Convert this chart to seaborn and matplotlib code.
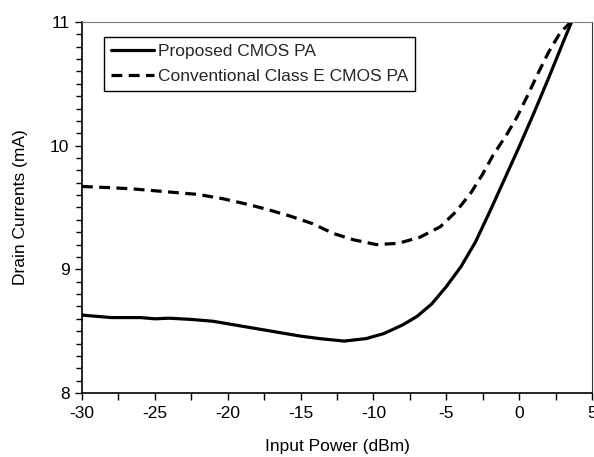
import matplotlib.pyplot as plt
import matplotlib.ticker as mticker
import seaborn as sns
import pandas as pd

# values
prop_x = [-30, -28, -26, -25, -24, -22.5, -21, -20, -19, -17.5, -16, -15, -13.7, -12,
          -10.5, -9.3, -8, -7, -6, -5, -4, -3, -2, -1, 0, 1, 2, 3, 3.6]
prop_y = [8.63, 8.61, 8.61, 8.60, 8.605, 8.595, 8.58, 8.56, 8.54, 8.51, 8.48, 8.46, 8.44, 8.42,
          8.44, 8.48, 8.55, 8.62, 8.72, 8.86, 9.02, 9.22, 9.47, 9.73, 9.99, 10.26, 10.54, 10.83, 11.0]

conv_x = [-30, -28, -26.5, -25, -23.5, -22, -20.3, -18.8, -17.3, -15.7, -14.2, -12.75, -11.4,
          -9.8, -8.3, -6.8, -5.4, -4.3, -3.3, -2.5, -1.8, -0.85, -0.15, 0.6, 1.3, 2.0, 2.8, 3.55]
conv_y = [9.67, 9.66, 9.65, 9.635, 9.62, 9.605, 9.57, 9.53, 9.485, 9.43, 9.37, 9.29, 9.24,
          9.20, 9.21, 9.26, 9.345, 9.47, 9.62, 9.77, 9.92, 10.09, 10.23, 10.41, 10.585, 10.75, 10.91, 11.0]

labels = ["Proposed CMOS PA", "Conventional Class E CMOS PA"]

sns.set_style("ticks")
plt.rcParams['font.family'] = ['Liberation Sans', 'DejaVu Sans']
plt.rcParams['axes.unicode_minus'] = False

prop = pd.DataFrame({"x": prop_x, "y": prop_y})
conv = pd.DataFrame({"x": conv_x, "y": conv_y})

fig = plt.figure(figsize=(5.94, 4.57), dpi=100)
ax = fig.add_axes([0.138, 0.140, 0.8586, 0.812])

sns.lineplot(x="x", y="y", data=prop, ax=ax, color="black", lw=2.3,
             label=labels[0], sort=False)
sns.lineplot(x="x", y="y", data=conv, ax=ax, color="black", lw=2.3,
             linestyle=(0, (3.4, 2.0)), label=labels[1], sort=False)

ax.set_xlim(-30, 5)
ax.set_ylim(8, 11)
ax.xaxis.set_major_locator(mticker.MultipleLocator(5))
ax.xaxis.set_minor_locator(mticker.MultipleLocator(2.5))
ax.yaxis.set_major_locator(mticker.MultipleLocator(1))
ax.yaxis.set_minor_locator(mticker.MultipleLocator(0.1))
ax.tick_params(axis="both", which="major", direction="out", length=5, width=1,
               labelsize=12.5, color="black", labelcolor="black", pad=4)
ax.tick_params(axis="y", which="minor", direction="out", length=4, width=1, color="black")
ax.tick_params(axis="x", which="minor", direction="out", length=5, width=1, color="black")

for side in ["left", "bottom"]:
    ax.spines[side].set_color("black")
    ax.spines[side].set_linewidth(1.2)
ax.spines["top"].set_color("#7f7f7f")
ax.spines["right"].set_color("#333333")

ax.set_xlabel("Input Power (dBm)", fontsize=12.5, color="black", labelpad=13)
ax.set_ylabel("Drain Currents (mA)", fontsize=12.5, color="black", labelpad=16)

leg = ax.legend(loc="upper left", bbox_to_anchor=(0.043, 0.96), borderaxespad=0,
                fontsize=12.5, fancybox=False, frameon=True, handlelength=2.5,
                handletextpad=0.2, labelspacing=0.6, borderpad=0.4)
leg.get_frame().set_edgecolor("black")
leg.get_frame().set_linewidth(1.0)
leg.get_frame().set_alpha(1)

plt.savefig("out.png", dpi=100)
